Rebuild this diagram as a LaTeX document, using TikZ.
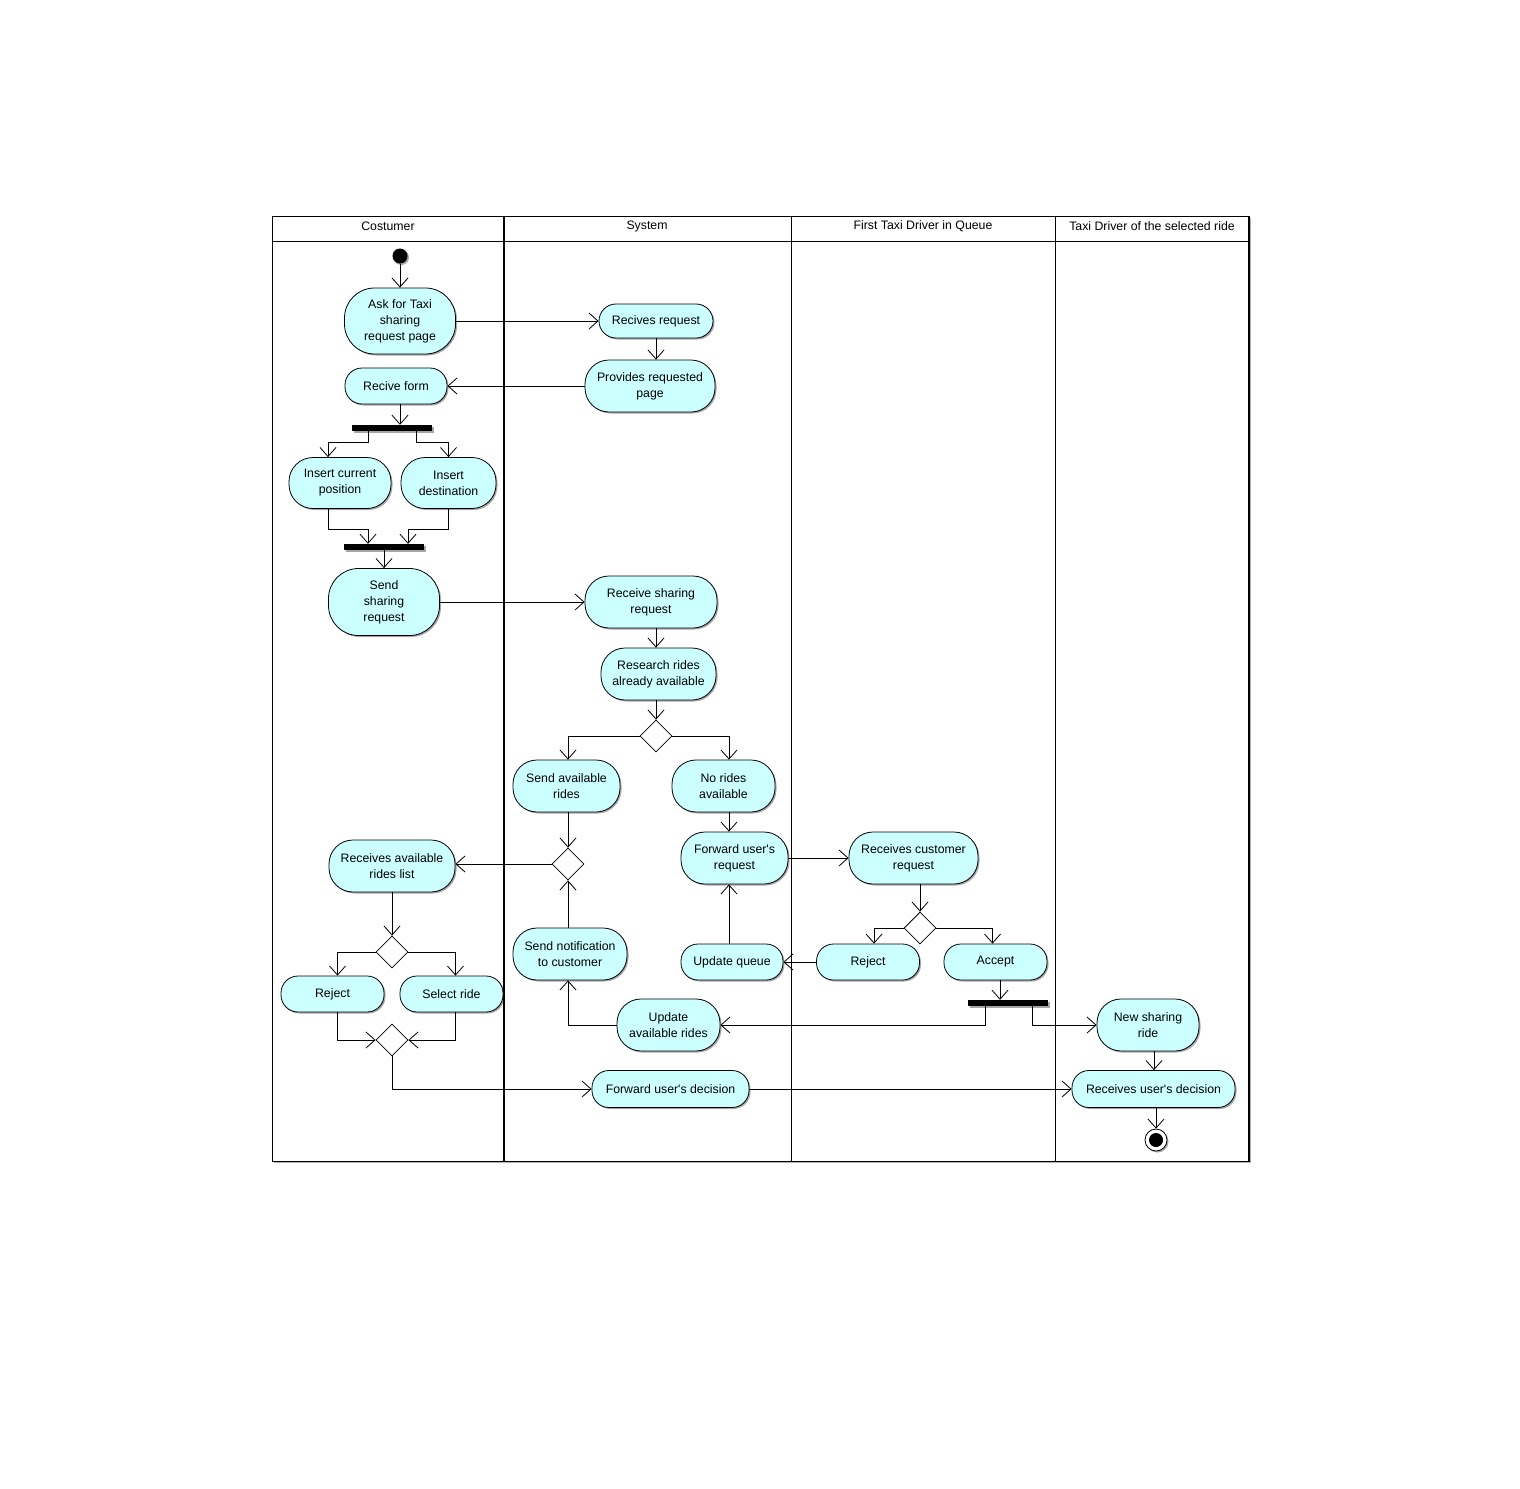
\documentclass[tikz,border=0pt]{standalone}
\usepackage{fontspec}
\setmainfont{Liberation Sans}[Ligatures=TeXOff]
\usetikzlibrary{arrows.meta,shapes.geometric,shadows}
\definecolor{actfill}{RGB}{204,255,255}
\begin{document}
\begin{tikzpicture}[x=1pt,y=-1pt,
  font=\fontsize{12.3}{16}\selectfont,
  shd/.style={drop shadow={shadow xshift=1.5pt,shadow yshift=-1.5pt,fill=black,opacity=0.35}},
  act/.style={draw, fill=actfill, align=center, inner sep=0pt, shd, line width=0.8pt},
  a36/.style={act, minimum height=36pt, rounded corners=17pt},
  a52/.style={act, minimum height=52pt, rounded corners=24pt},
  a66/.style={act, minimum height=66pt, rounded corners=30pt},
  bar/.style={fill=black, minimum width=80pt, minimum height=6pt, inner sep=0pt, shd},
  dec/.style={draw, fill=white, diamond, minimum width=32pt, minimum height=32pt, inner sep=0pt, line width=0.8pt},
  flow/.style={-{Straight Barb[length=9pt,width=16pt]}, line width=0.8pt},
]
\useasboundingbox (0,0) rectangle (1520,1488);

% swimlanes
\draw[gray!60, line width=1.5pt] (1250.5,218) -- (1250.5,1162.5) -- (274,1162.5);
\draw[line width=1pt] (272,216) rectangle (1249,1161);
\draw[line width=1pt] (272,241) -- (1249,241);
\draw[line width=2pt] (504,216) -- (504,1161);
\draw[line width=1pt] (791,216) -- (791,1161);
\draw[line width=1pt] (1055,216) -- (1055,1161);
\draw[line width=1.6pt] (1248.5,216) -- (1248.5,1161);

\node (h1) at (388,226) {Costumer};
\node (h2) at (647,226) {System};
\node (h3) at (923,226) {First Taxi Driver in Queue};
\node (h4) at (1152,226) {Taxi Driver of the selected ride};

% nodes
\node[circle, fill=black, minimum size=15pt, inner sep=0pt, shd] (start) at (400,256) {};
\node[a66, minimum width=111pt] (ask) at (400,321) {Ask for Taxi\\sharing\\request page};
\node[a36, minimum width=114pt, minimum height=34pt] (recives) at (656,321) {Recives request};
\node[a52, minimum width=130pt] (provides) at (650,386) {Provides requested\\page};
\node[a36, minimum width=102pt] (recform) at (396,386) {Recive form};
\node[bar] (fork1) at (392,428) {};
\node[a52, minimum width=102pt, minimum height=51pt] (inscur) at (340,483) {Insert current\\position};
\node[a52, minimum width=95pt, minimum height=51pt] (insdest) at (448.5,483) {Insert\\destination};
\node[bar] (fork2) at (384,547) {};
\node[a66, minimum width=111pt, minimum height=67pt] (send) at (384,602) {Send\\sharing\\request};
\node[a52, minimum width=132pt] (recsh) at (651,602) {Receive sharing\\request};
\node[a52, minimum width=115pt] (research) at (658.5,674) {Research rides\\already available};
\node[dec] (dec1) at (656,736) {};
\node[a52, minimum width=107pt] (sendav) at (566.5,786) {Send available\\rides};
\node[a52, minimum width=103pt] (norides) at (723.5,786) {No rides\\available};
\node[dec] (dec2) at (568,864) {};
\node[a52, minimum width=107pt] (forward) at (734.5,858) {Forward user's\\request};
\node[a52, minimum width=126pt] (recav) at (392,866) {Receives available\\rides list};
\node[a52, minimum width=129pt] (reccust) at (913.5,858) {Receives customer\\request};
\node[dec] (dec3) at (920,928) {};
\node[dec] (dec4) at (392,952) {};
\node[a52, minimum width=114pt] (sendnotif) at (570,954) {Send notification\\to customer};
\node[a36, minimum width=102pt] (updq) at (732,962) {Update queue};
\node[a36, minimum width=103pt] (rejectD) at (868,962) {Reject};
\node[a36, minimum width=103pt] (accept) at (995.5,962) {Accept};
\node[a36, minimum width=103pt] (rejectC) at (332.5,994) {Reject};
\node[a36, minimum width=103pt] (select) at (451.5,994) {Select ride};
\node[bar] (fork3) at (1008,1003) {};
\node[a52, minimum width=103pt] (updav) at (668.5,1025) {Update\\available rides};
\node[a52, minimum width=102pt] (newsh) at (1148,1025) {New sharing\\ride};
\node[dec] (dec5) at (392,1040) {};
\node[a36, minimum width=157pt, minimum height=37pt] (fwddec) at (670.5,1089) {Forward user's decision};
\node[a36, minimum width=163pt, minimum height=37pt] (recdec) at (1153.5,1089) {Receives user's decision};
\node[circle, draw, fill=white, minimum size=22pt, inner sep=0pt, line width=0.8pt, shd] (end) at (1156,1140) {};
\node[circle, fill=black, minimum size=14pt, inner sep=0pt] (endin) at (end) {};

% connectors
\draw[flow] (start) -- (ask);
\draw[flow] (ask) -- (recives);
\draw[flow] (recives.south) -- (recives.south |- provides.north);
\draw[flow] (provides) -- (recform);
\draw[flow] ([xshift=4pt]recform.south) -- ([xshift=4pt]recform.south |- fork1.north);
\draw[flow] ([xshift=-24pt]fork1.south) -- ++(0,11) -| ([xshift=-12pt]inscur.north);
\draw[flow] ([xshift=24pt]fork1.south) -- ++(0,11) -| (insdest.north);
\draw[flow] ([xshift=-12pt]inscur.south) -- ++(0,20) -| ([xshift=-16pt]fork2.north);
\draw[flow] (insdest.south) -- ++(0,20) -| ([xshift=24pt]fork2.north);
\draw[flow] (fork2.south) -- (send.north);
\draw[flow] (send) -- (recsh);
\draw[flow] (recsh.south -| dec1.north) -- (research.north -| dec1.north);
\draw[flow] (research.south -| dec1.north) -- (dec1.north);
\draw[flow] (dec1.west) -| ([xshift=1.5pt]sendav.north);
\draw[flow] (dec1.east) -| ([xshift=5.5pt]norides.north);
\draw[flow] (sendav.south -| dec2.north) -- (dec2.north);
\draw[flow] ([xshift=5.5pt]norides.south) -- ([xshift=5.5pt]norides.south |- forward.north);
\draw[flow] (dec2.west) -- (dec2.west -| recav.east);
\draw[flow] (forward.east) -- (forward.east -| reccust.west);
\draw[flow] (reccust.south -| dec3.north) -- (dec3.north);
\draw[flow] (dec3.west) -| ([xshift=6pt]rejectD.north);
\draw[flow] (dec3.east) -| ([xshift=-3pt]accept.north);
\draw[flow] (rejectD.west) -- (rejectD.west -| updq.east);
\draw[flow] ([xshift=-3pt]updq.north) -- ([xshift=-3pt]updq.north |- forward.south);
\draw[flow] ([xshift=4.5pt]accept.south) -- ([xshift=4.5pt]accept.south |- fork3.north);
\draw[flow] ([xshift=-23pt]fork3.south) |- (updav.east);
\draw[flow] ([xshift=24pt]fork3.south) |- (newsh.west);
\draw[flow] (updav.west) -| ([xshift=-2pt]sendnotif.south);
\draw[flow] ([xshift=-2pt]sendnotif.north) -- (dec2.south);
\draw[flow] (recav.south) -- (dec4.north);
\draw[flow] (dec4.west) -| ([xshift=5pt]rejectC.north);
\draw[flow] (dec4.east) -| ([xshift=4pt]select.north);
\draw[flow] ([xshift=5pt]rejectC.south) |- (dec5.west);
\draw[flow] ([xshift=4pt]select.south) |- (dec5.east);
\draw[flow] (dec5.south) |- (fwddec.west);
\draw[flow] (fwddec) -- (recdec);
\draw[flow] ([xshift=6pt]newsh.south) -- ([xshift=6pt]newsh.south |- recdec.north);
\draw[flow] (recdec.south -| end.north) -- (end.north);
\end{tikzpicture}
\end{document}
